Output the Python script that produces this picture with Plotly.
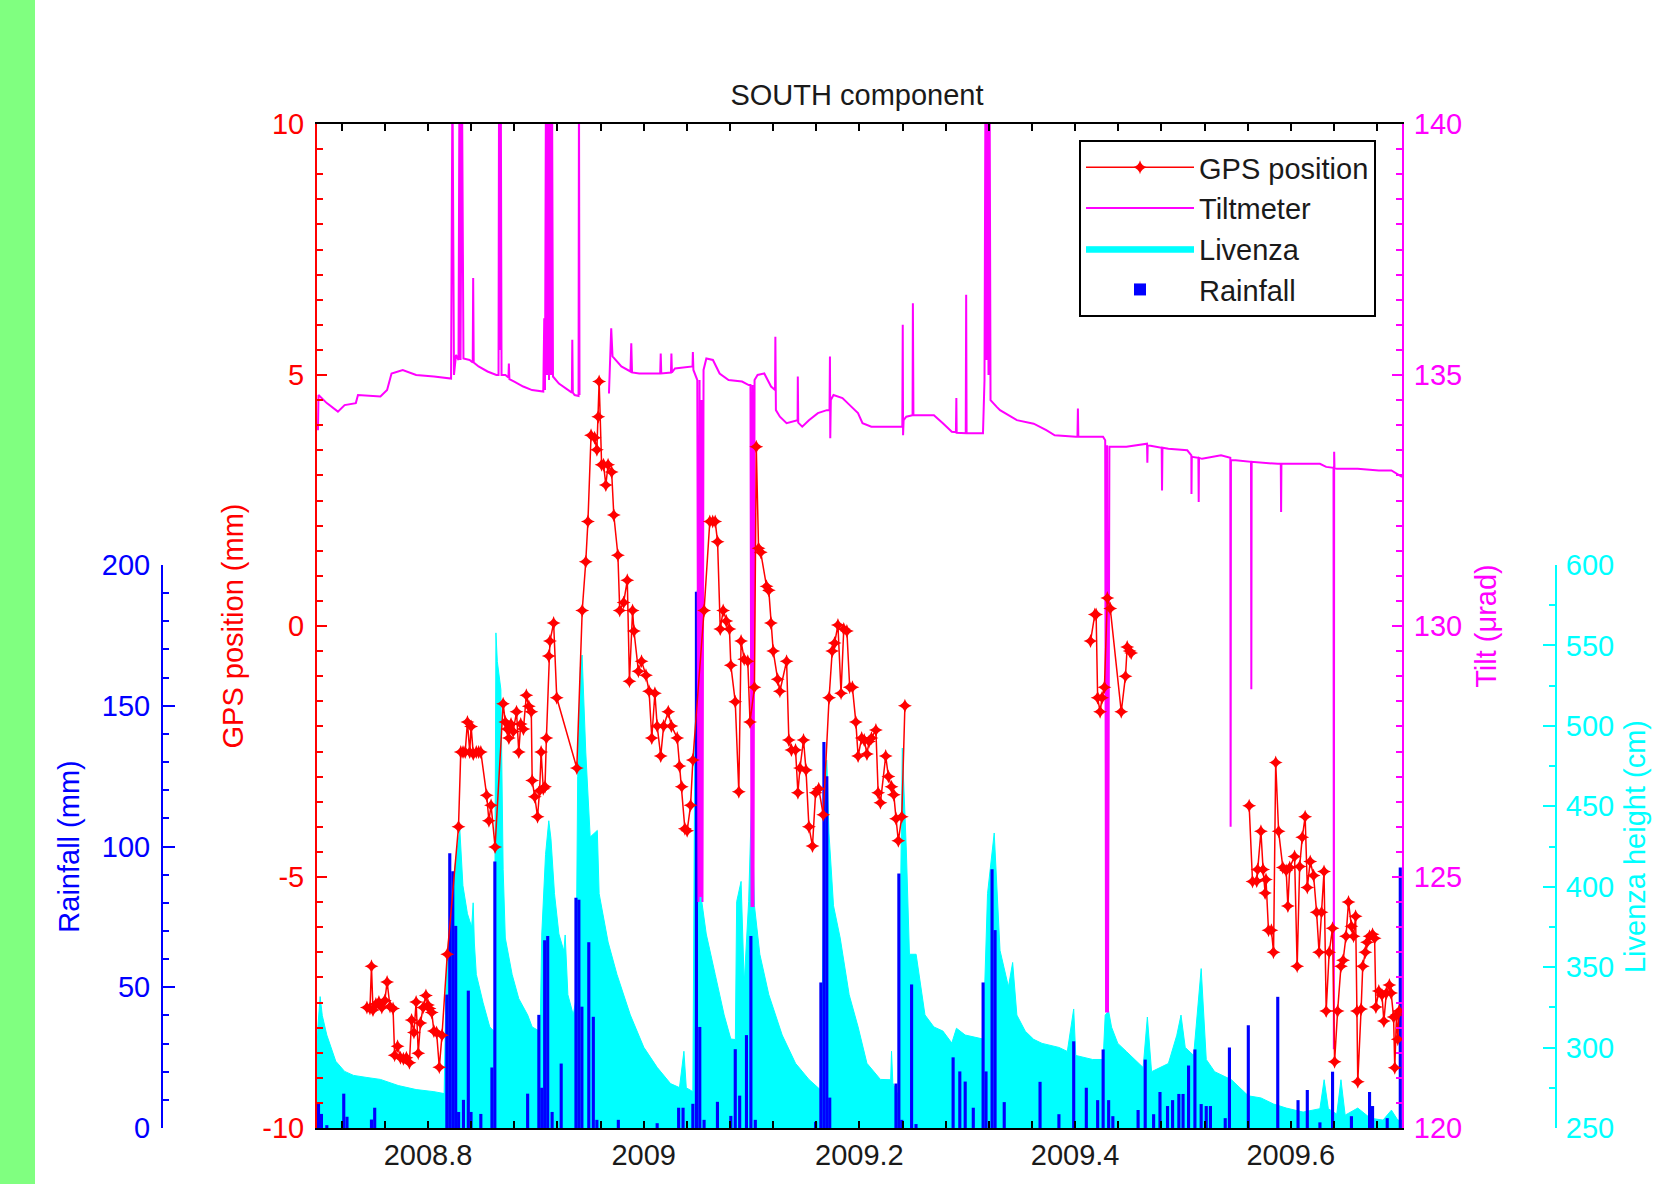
import plotly.graph_objects as go

TITLE = "SOUTH component"

# ---------------- GPS position (mm) ----------------
GPS_YEAR = [
    2008.7434, 2008.7462, 2008.7476, 2008.7490, 2008.7517, 2008.7545, 2008.7572, 2008.7600,
    2008.7621, 2008.7648, 2008.7676, 2008.7691, 2008.7718, 2008.7745, 2008.7772, 2008.7800,
    2008.7828, 2008.7848, 2008.7870, 2008.7890, 2008.7910, 2008.7930, 2008.7955, 2008.7981,
    2008.8000, 2008.8014, 2008.8035, 2008.8055, 2008.8080, 2008.8105, 2008.8130, 2008.8179,
    2008.8283, 2008.8304, 2008.8325, 2008.8345, 2008.8366, 2008.8387, 2008.8400, 2008.8420,
    2008.8448, 2008.8470, 2008.8490, 2008.8544, 2008.8565, 2008.8585, 2008.8622,
    2008.8697, 2008.8717, 2008.8735, 2008.8750, 2008.8770, 2008.8790, 2008.8821, 2008.8842,
    2008.8860, 2008.8885, 2008.8912, 2008.8935, 2008.8958, 2008.8966, 2008.8990, 2008.9016,
    2008.9035, 2008.9049, 2008.9069, 2008.9085, 2008.9098, 2008.9120, 2008.9131, 2008.9165,
    2008.9194, 2008.9380, 2008.9430, 2008.9463, 2008.9483, 2008.9512, 2008.9545, 2008.9566,
    2008.9579, 2008.9587, 2008.9610, 2008.9628, 2008.9649, 2008.9670, 2008.9703, 2008.9723,
    2008.9761, 2008.9778, 2008.9814, 2008.9848, 2008.9868, 2008.9897, 2008.9910, 2008.9951,
    2008.9980, 2009.0021, 2009.0050, 2009.0075, 2009.0104, 2009.0125, 2009.0158, 2009.0185,
    2009.0228, 2009.0257, 2009.0311, 2009.0332, 2009.0353, 2009.0382, 2009.0403, 2009.0435,
    2009.0456, 2009.0560, 2009.0613, 2009.0640, 2009.0663, 2009.0685, 2009.0710, 2009.0737,
    2009.0766, 2009.0795, 2009.0808, 2009.0849, 2009.0882, 2009.0903, 2009.0932, 2009.0965,
    2009.0986, 2009.1027, 2009.1044, 2009.1065, 2009.1085, 2009.1139, 2009.1160, 2009.1180,
    2009.1201, 2009.1242, 2009.1263, 2009.1325, 2009.1346, 2009.1370, 2009.1408, 2009.1430,
    2009.1449, 2009.1482, 2009.1505, 2009.1532, 2009.1565, 2009.1594, 2009.1623, 2009.1665,
    2009.1719, 2009.1748, 2009.1770, 2009.1801, 2009.1830, 2009.1855, 2009.1884, 2009.1910,
    2009.1935, 2009.1967, 2009.1988, 2009.2021, 2009.2045, 2009.2070, 2009.2090, 2009.2112,
    2009.2153, 2009.2174, 2009.2195, 2009.2244, 2009.2269, 2009.2298, 2009.2319, 2009.2340,
    2009.2361, 2009.2393, 2009.2422, 2009.3300,
    2009.4143, 2009.4183, 2009.4195, 2009.4209, 2009.4232, 2009.4250, 2009.4272, 2009.4299,
    2009.4326, 2009.4428, 2009.4467, 2009.4483, 2009.4506, 2009.4520, 2009.5000,
    2009.5614, 2009.5645, 2009.5684, 2009.5692, 2009.5723, 2009.5743, 2009.5762, 2009.5770,
    2009.5793, 2009.5820, 2009.5840, 2009.5860, 2009.5887, 2009.5926, 2009.5957, 2009.5973,
    2009.5990, 2009.6035, 2009.6059, 2009.6082, 2009.6106, 2009.6133, 2009.6153, 2009.6180,
    2009.6211, 2009.6239, 2009.6262, 2009.6285, 2009.6308, 2009.6328, 2009.6356, 2009.6387,
    2009.6406, 2009.6434, 2009.6465, 2009.6485, 2009.6512, 2009.6535, 2009.6562, 2009.6582,
    2009.6601, 2009.6613, 2009.6621, 2009.6652, 2009.6667, 2009.6691, 2009.6707, 2009.6730,
    2009.6758, 2009.6777, 2009.6789, 2009.6816, 2009.6845, 2009.6863, 2009.6886, 2009.6914,
    2009.6930, 2009.6953, 2009.6964, 2009.6980, 2009.6992, 2009.7004,
]
GPS_MM = [
    -7.60, -7.62, -6.78, -7.65, -7.53, -7.49, -7.60, -7.46,
    -7.09, -7.58, -7.62, -8.55, -8.37, -8.60, -8.62, -8.60,
    -8.70, -7.85, -8.10, -7.49, -8.51, -7.91, -7.60, -7.36,
    -7.55, -7.62, -7.70, -8.07, -8.10, -8.79, -8.15, -6.54,
    -4.00, -2.51, -2.51, -2.51, -1.91, -2.51, -2.00, -2.55,
    -2.51, -2.51, -2.51, -3.37, -3.88, -3.57, -4.40,
    -1.55, -1.91, -2.05, -2.23, -1.95, -2.10, -1.71, -2.51,
    -1.95, -2.05, -1.38, -1.60, -1.71, -3.08, -3.40, -3.80,
    -3.28, -2.51, -3.24, -3.20, -2.23, -0.60, -0.30, 0.06,
    -1.43, -2.83, 0.31, 1.28, 2.08, 3.80, 3.75, 3.51,
    4.17, 4.87, 3.21, 3.21, 2.81, 3.21, 3.07, 2.21,
    1.41, 0.31, 0.47, 0.91, -1.10, 0.31, -0.10, -0.90,
    -0.70, -0.98, -1.30, -2.23, -1.34, -1.99, -2.59, -1.99,
    -1.71, -1.99, -2.23, -2.79, -3.20, -4.04, -4.08, -3.57,
    -2.67, 0.31, 2.08, 2.08, 2.08, 1.68, -0.06, 0.31,
    0.10, -0.06, -0.78, -1.51, -3.30, -0.30, -0.66, -0.70,
    -1.91, -1.22, 3.57, 1.55, 1.47, 0.79, 0.71, 0.06,
    -0.50, -1.06, -1.30, -0.70, -2.27, -2.47, -2.47, -3.32,
    -2.83, -2.27, -2.87, -4.00, -4.38, -3.32, -3.24, -3.76,
    -1.43, -0.50, -0.34, 0.02, -1.34, -0.06, -0.10, -1.22,
    -1.22, -1.91, -2.59, -2.23, -2.27, -2.55, -2.30, -2.23,
    -2.07, -3.32, -3.52, -2.59, -3.00, -3.20, -3.36, -3.84,
    -4.28, -3.80, -1.59, None,
    -0.30, 0.23, 0.23, -1.43, -1.71, -1.43, -1.22, 0.56,
    0.35, -1.71, -1.00, -0.42, -0.50, -0.54, None,
    -3.58, -5.09, -5.08, -4.85, -4.09, -4.85, -5.32, -5.05,
    -6.06, -6.06, -6.50, -2.72, -4.09, -4.81, -4.87, -5.58,
    -4.81, -4.59, -6.78, -4.79, -4.21, -3.80, -5.21, -4.69,
    -4.97, -5.70, -6.50, -5.70, -4.89, -7.67, -6.50, -6.02,
    -8.68, -7.67, -6.78, -6.66, -6.18, -5.50, -5.98, -6.18,
    -5.78, -7.67, -9.08, -7.63, -6.78, -6.50, -6.30, -6.18,
    -6.14, -6.22, -7.59, -7.27, -7.35, -7.87, -7.31, -7.15,
    -7.31, -7.79, -8.80, -7.75, -8.23, -7.67,
]

# ---------------- Tiltmeter (microrad) ----------------
TILT_YEAR = [
    2008.6980, 2008.6985, 2008.7062, 2008.7165, 2008.7227, 2008.7331, 2008.7351, 2008.7559,
    2008.7621, 2008.7662, 2008.7766, 2008.7890, 2008.8055, 2008.8214, 2008.8227, 2008.8241,
    2008.8260, 2008.8283, 2008.8292, 2008.8302, 2008.8315, 2008.8329, 2008.8386, 2008.8415,
    2008.8419, 2008.8424, 2008.8469, 2008.8552, 2008.8634, 2008.8654, 2008.8659, 2008.8668,
    2008.8675, 2008.8682, 2008.8718, 2008.8746, 2008.8750, 2008.8755, 2008.8800, 2008.8883,
    2008.8965, 2008.9069, 2008.9078, 2008.9085, 2008.9094, 2008.9104, 2008.9113, 2008.9122,
    2008.9131, 2008.9141, 2008.9150, 2008.9159, 2008.9214, 2008.9297, 2008.9334, 2008.9338,
    2008.9343, 2008.9360, 2008.9396, 2008.9400, 2008.9405, 2008.9500,
    2008.9678, 2008.9699, 2008.9711, 2008.9793, 2008.9877, 2008.9885, 2008.9892, 2008.9959,
    2009.0125, 2009.0153, 2009.0158, 2009.0163, 2009.0253, 2009.0257, 2009.0262, 2009.0290,
    2009.0453, 2009.0456, 2009.0461, 2009.0497, 2009.0508, 2009.0518, 2009.0527, 2009.0536,
    2009.0545, 2009.0555, 2009.0581, 2009.0642, 2009.0704, 2009.0787, 2009.0912, 2009.0974,
    2009.0990, 2009.1000, 2009.1009, 2009.1018, 2009.1028, 2009.1056, 2009.1118, 2009.1181,
    2009.1218, 2009.1221, 2009.1226, 2009.1263, 2009.1325, 2009.1408, 2009.1427, 2009.1429,
    2009.1433, 2009.1470, 2009.1532, 2009.1615, 2009.1698, 2009.1723, 2009.1727, 2009.1730,
    2009.1735, 2009.1760, 2009.1843, 2009.1925, 2009.1987, 2009.2029, 2009.2111, 2009.2360,
    2009.2398, 2009.2402, 2009.2405, 2009.2410, 2009.2435, 2009.2493, 2009.2496, 2009.2501,
    2009.2526, 2009.2691, 2009.2774, 2009.2857, 2009.2895, 2009.2899, 2009.2902, 2009.2939,
    2009.2986, 2009.2990, 2009.2994, 2009.3146, 2009.3160, 2009.3169, 2009.3179, 2009.3188,
    2009.3197, 2009.3207, 2009.3216, 2009.3271, 2009.3304, 2009.3460, 2009.3616, 2009.3733,
    2009.3811, 2009.4007, 2009.4022, 2009.4026, 2009.4030, 2009.4259, 2009.4279, 2009.4287,
    2009.4296, 2009.4305, 2009.4318, 2009.4475, 2009.4667, 2009.4670, 2009.4673, 2009.4803,
    2009.4806, 2009.4810, 2009.4865, 2009.5040, 2009.5078, 2009.5079, 2009.5082, 2009.5143,
    2009.5146, 2009.5149, 2009.5177, 2009.5353, 2009.5439, 2009.5442, 2009.5445, 2009.5489,
    2009.5631, 2009.5634, 2009.5637, 2009.5880, 2009.5907, 2009.5910, 2009.5913, 2009.6035,
    2009.6270, 2009.6328, 2009.6396, 2009.6399, 2009.6402, 2009.6405, 2009.6426, 2009.6620,
    2009.6816, 2009.6933, 2009.7031,
]
TILT_URAD = [
    133.90, 134.60, 134.44, 134.27, 134.40, 134.44, 134.60, 134.57,
    134.70, 135.03, 135.10, 135.00, 134.97, 134.93, 141.0, 135.00,
    135.40, 135.30, 141.0, 135.30, 141.0, 135.33, 135.30, 135.25,
    136.93, 135.25, 135.17, 135.07, 135.00, 135.00, 141.0, 135.50,
    141.0, 135.00, 135.00, 134.95, 135.23, 134.92, 134.87, 134.77,
    134.70, 134.67, 136.13, 134.70, 141.0, 135.00, 141.0, 134.90,
    141.0, 135.00, 141.0, 134.97, 134.83, 134.70, 134.65, 135.70,
    134.65, 134.60, 134.58, 141.0, 134.60, None,
    134.63, 135.93, 135.37, 135.17, 135.07, 135.63, 135.05, 135.03,
    135.03, 135.03, 135.43, 135.03, 135.05, 135.43, 135.05, 135.13,
    135.17, 135.46, 135.10, 134.90, 124.50, 134.90, 124.60, 134.50,
    124.50, 135.10, 135.33, 135.30, 135.03, 134.90, 134.87, 134.80,
    134.80, 124.40, 134.80, 124.40, 134.90, 135.00, 135.03, 134.77,
    134.70, 135.76, 134.30, 134.17, 134.04, 134.10, 134.10, 134.97,
    134.05, 133.97, 134.10, 134.24, 134.30, 134.30, 135.37, 133.74,
    134.50, 134.60, 134.54, 134.37, 134.24, 134.04, 133.97, 133.97,
    133.97, 136.00, 133.80, 134.10, 134.17, 134.20, 136.43, 134.20,
    134.20, 134.20, 134.04, 133.87, 133.86, 134.54, 133.85, 133.84,
    133.84, 136.60, 133.84, 133.84, 134.90, 141.0, 135.30, 141.0,
    135.00, 141.0, 134.50, 134.37, 134.30, 134.10, 134.03, 133.90,
    133.80, 133.77, 133.77, 134.33, 133.77, 133.77, 133.70, 122.30,
    133.60, 122.30, 133.57, 133.57, 133.63, 133.25, 133.60, 133.55,
    132.70, 133.55, 133.53, 133.50, 133.40, 132.63, 133.37, 133.35,
    132.47, 133.35, 133.33, 133.40, 133.35, 126.00, 133.30, 133.30,
    133.27, 128.74, 133.27, 133.23, 133.23, 132.27, 133.23, 133.23,
    133.23, 133.17, 133.15, 121.57, 133.47, 133.15, 133.13, 133.13,
    133.10, 133.10, 132.97,
]

# ---------------- Livenza river height (cm) ----------------
LIV_YEAR = [
    2008.6971, 2008.6979, 2008.7000, 2008.7020, 2008.7062, 2008.7145, 2008.7227, 2008.7310,
    2008.7434, 2008.7559, 2008.7724, 2008.7890, 2008.8055, 2008.8150, 2008.8165, 2008.8179,
    2008.8242, 2008.8295, 2008.8324, 2008.8366, 2008.8405, 2008.8419, 2008.8430, 2008.8448,
    2008.8511, 2008.8573, 2008.8615, 2008.8630, 2008.8643, 2008.8676, 2008.8697, 2008.8717,
    2008.8780, 2008.8842, 2008.8924, 2008.8966, 2008.9040, 2008.9055, 2008.9090, 2008.9120,
    2008.9140, 2008.9173, 2008.9214, 2008.9260, 2008.9272, 2008.9297, 2008.9347, 2008.9372,
    2008.9388, 2008.9413, 2008.9429, 2008.9463, 2008.9504, 2008.9545, 2008.9570, 2008.9587,
    2008.9670, 2008.9752, 2008.9876, 2009.0001, 2009.0125, 2009.0249, 2009.0332, 2009.0373,
    2009.0395, 2009.0456, 2009.0473, 2009.0497, 2009.0515, 2009.0539, 2009.0580, 2009.0663,
    2009.0746, 2009.0808, 2009.0850, 2009.0862, 2009.0903, 2009.0932, 2009.0973, 2009.1002,
    2009.1027, 2009.1077, 2009.1160, 2009.1284, 2009.1408, 2009.1532, 2009.1636, 2009.1660,
    2009.1677, 2009.1698, 2009.1718, 2009.1760, 2009.1822, 2009.1905, 2009.1988, 2009.2070,
    2009.2195, 2009.2290, 2009.2298, 2009.2310, 2009.2360, 2009.2398, 2009.2435, 2009.2464,
    2009.2526, 2009.2608, 2009.2691, 2009.2774, 2009.2857, 2009.2900, 2009.2981, 2009.3147,
    2009.3188, 2009.3250, 2009.3304, 2009.3382, 2009.3421, 2009.3460, 2009.3538, 2009.3616,
    2009.3694, 2009.3850, 2009.3928, 2009.3987, 2009.4006, 2009.4162, 2009.4260, 2009.4279,
    2009.4311, 2009.4338, 2009.4396, 2009.4475, 2009.4553, 2009.4631, 2009.4670, 2009.4709,
    2009.4865, 2009.4943, 2009.4982, 2009.5021, 2009.5099, 2009.5169, 2009.5216, 2009.5294,
    2009.5372, 2009.5450, 2009.5528, 2009.5606, 2009.5723, 2009.5840, 2009.5958, 2009.6114,
    2009.6270, 2009.6309, 2009.6348, 2009.6426, 2009.6465, 2009.6504, 2009.6621, 2009.6738,
    2009.6855, 2009.6933, 2009.6992, 2009.7030,
]
LIV_CM = [
    297.7, 312.8, 331.7, 320.0, 307.8, 291.5, 285.2, 282.7,
    281.4, 280.2, 276.4, 273.9, 272.6, 271.4, 332.9, 358.0,
    408.3, 435.9, 400.7, 383.2, 375.0, 390.0, 365.0, 345.5,
    327.9, 312.8, 310.0, 557.8, 540.0, 522.6, 410.8, 368.1,
    345.5, 330.4, 320.3, 312.8, 310.0, 370.6, 420.0, 441.0,
    430.0, 395.7, 370.6, 360.0, 370.0, 332.9, 320.3, 330.0,
    468.6, 536.4, 544.0, 483.7, 430.9, 433.4, 435.0, 395.7,
    365.6, 345.5, 320.3, 300.2, 287.7, 277.6, 275.1, 297.7,
    275.0, 272.6, 478.6, 584.2, 470.0, 390.7, 370.6, 345.5,
    320.3, 305.3, 305.0, 390.7, 403.3, 340.0, 390.7, 458.5,
    388.2, 358.0, 332.9, 307.8, 290.2, 280.2, 273.9, 350.0,
    476.1, 478.6, 433.4, 388.2, 368.1, 332.9, 312.8, 290.2,
    280.2, 280.0, 297.7, 278.0, 270.1, 486.2, 423.4, 358.0,
    358.0, 320.3, 312.8, 310.3, 302.8, 312.0, 307.8, 305.3,
    395.7, 433.4, 360.4, 337.8, 352.9, 320.2, 310.2, 305.1,
    302.6, 300.1, 297.6, 324.0, 295.1, 292.6, 292.6, 320.2,
    322.7, 312.7, 302.6, 297.6, 292.6, 287.6, 319.0, 285.0,
    290.1, 307.7, 320.2, 300.1, 295.1, 349.1, 292.6, 285.0,
    282.5, 280.0, 275.0, 270.0, 268.7, 264.9, 262.4, 259.9,
    262.0, 280.0, 262.0, 258.6, 280.0, 258.0, 262.4, 256.1,
    254.9, 261.1, 254.9, 254.9,
]

# ---------------- Daily rainfall (mm) ----------------
RAIN_YEAR = [
    2008.6985, 2008.7012, 2008.7062, 2008.7219, 2008.7249, 2008.7476, 2008.7506,
    2008.8175, 2008.8202, 2008.8230, 2008.8257, 2008.8284, 2008.8329, 2008.8374, 2008.8399,
    2008.8490, 2008.8593, 2008.8620, 2008.8924, 2008.9028, 2008.9055, 2008.9082, 2008.9110,
    2008.9151, 2008.9235, 2008.9372, 2008.9399, 2008.9427, 2008.9491, 2008.9533, 2008.9566,
    2008.9765, 2009.0125, 2009.0324, 2009.0365, 2009.0456, 2009.0489, 2009.0520, 2009.0560,
    2009.0684, 2009.0808, 2009.0849, 2009.0890, 2009.0953, 2009.0994, 2009.1035, 2009.1594,
    2009.1643, 2009.1671, 2009.1698, 2009.1725, 2009.2339, 2009.2366, 2009.2393, 2009.2484,
    2009.2525, 2009.2869, 2009.2931, 2009.2981, 2009.3056, 2009.3147, 2009.3174, 2009.3230,
    2009.3258, 2009.3343, 2009.3675, 2009.3850, 2009.3987, 2009.4104, 2009.4209, 2009.4260,
    2009.4311, 2009.4350, 2009.4584, 2009.4650, 2009.4728, 2009.4787, 2009.4857, 2009.4904,
    2009.4962, 2009.5001, 2009.5052, 2009.5111, 2009.5169, 2009.5216, 2009.5255, 2009.5392,
    2009.5431, 2009.5606, 2009.5879, 2009.6067, 2009.6153, 2009.6270, 2009.6387, 2009.6562,
    2009.6730, 2009.6758, 2009.6894, 2009.7015,
]
RAIN_MM = [
    9.0, 5.0, 1.0, 12.2, 4.0, 3.0, 7.2,
    47.4, 97.6, 91.2, 71.8, 5.7, 10.0, 48.8, 5.7,
    5.0, 21.5, 94.7, 12.2, 40.2, 14.3, 66.7, 68.2,
    5.7, 22.9, 81.8, 81.1, 43.1, 66.0, 39.5, 2.9,
    2.9, 1.7, 7.2, 7.2, 8.6, 190.5, 35.9, 2.9,
    9.3, 4.3, 28.0, 11.5, 33.0, 68.2, 2.9, 2.2,
    51.7, 137.1, 125.0, 10.8, 15.8, 90.4, 2.9, 51.0,
    1.4, 25.1, 20.1, 16.5, 7.2, 51.7, 20.1, 91.9,
    70.3, 9.2, 16.4, 4.9, 30.8, 14.3, 9.9, 27.9,
    9.9, 4.2, 6.4, 24.3, 4.9, 12.8, 7.8, 9.9,
    12.1, 12.1, 22.2, 27.9, 8.5, 7.8, 7.8, 3.5,
    28.6, 36.5, 46.6, 9.9, 13.5, 2.0, 20.0, 4.2,
    12.8, 7.8, 3.5, 92.5,
]

X_RANGE = [2008.6971, 2009.7031]
GPS_RANGE = [-10, 10]
TILT_RANGE = [120, 140]
RAIN_RANGE = [0, 200]
LIV_RANGE = [250, 600]
GPS_TICKS = [-10, -5, 0, 5, 10]
GPS_TICKTEXT = ["-10", "-5", "0", "5", "10"]

RED = "#FF0000"
MAGENTA = "#FF00FF"
CYAN = "#00FFFF"
BLUE = "#0000FF"
FONT = "Arial, 'Liberation Sans', sans-serif"
FS = 29

fig = go.Figure()

fig.add_trace(go.Scatter(
    x=LIV_YEAR, y=LIV_CM, xaxis="x", yaxis="y", name="Livenza",
    mode="lines", fill="tozeroy", fillcolor=CYAN, line=dict(color=CYAN, width=1),
    legendrank=3,
))
fig.add_trace(go.Bar(
    x=RAIN_YEAR, y=RAIN_MM, xaxis="x", yaxis="y2", name="Rainfall",
    width=0.0029, marker=dict(color=BLUE, line=dict(width=0)),
    legendrank=4,
))
fig.add_trace(go.Scatter(
    x=TILT_YEAR, y=TILT_URAD, xaxis="x", yaxis="y3", name="Tiltmeter",
    mode="lines", line=dict(color=MAGENTA, width=2), connectgaps=False,
    legendrank=2,
))
fig.add_trace(go.Scatter(
    x=GPS_YEAR, y=GPS_MM, xaxis="x", yaxis="y4", name="GPS position",
    mode="lines+markers", line=dict(color=RED, width=1.5), connectgaps=False,
    marker=dict(symbol="star-diamond", size=10, color=RED, line=dict(width=0)),
    legendrank=1,
))

W, H = 1660, 1184
ML, MR, MT, MB = 60, 60, 124, 56
PW, PH = W - ML - MR, H - MT - MB
XD = [(317 - ML) / PW, (1402 - ML) / PW]
SUB_TOP = (1128 - 565) / PH


def yax(color, **kw):
    d = dict(
        showline=True, linecolor=color, linewidth=2, showgrid=False, zeroline=False,
        ticks="inside", tickcolor=color, tickwidth=2,
        tickfont=dict(color=color, size=FS, family=FONT),
        automargin=False,
    )
    d.update(kw)
    return d


fig.update_layout(
    width=W, height=H, autosize=False,
    margin=dict(l=ML, r=MR, t=MT, b=MB, pad=0),
    paper_bgcolor="white", plot_bgcolor="rgba(0,0,0,0)",
    font=dict(family=FONT, size=FS, color="black"),
    showlegend=True,
    title=dict(text=TITLE, x=857 / W, xref="container", xanchor="center",
               y=1 - 95 / H, yref="container", yanchor="middle",
               font=dict(size=FS, color="#1a1a1a", family=FONT)),
    xaxis=dict(
        domain=XD, anchor="y3", range=X_RANGE, tick0=2008.8, dtick=0.2,
        tickformat=".5~r",
        ticks="inside", ticklen=7, tickwidth=2, tickcolor="black",
        showline=True, linecolor="black", linewidth=2, mirror="ticks",
        showgrid=False, zeroline=False, ticklabelstandoff=0,
        tickfont=dict(color="#1a1a1a", size=FS, family=FONT),
        minor=dict(tick0=2008.8, dtick=0.04, ticks="inside", ticklen=7,
                   tickwidth=2, tickcolor="black", showgrid=False),
        automargin=False,
    ),
    yaxis=yax(
        CYAN, domain=[0, SUB_TOP], anchor="free", position=(1556 - ML) / PW, side="right",
        range=LIV_RANGE, tick0=250, dtick=50, ticklen=12, ticklabelstandoff=3,
        minor=dict(dtick=25, ticks="inside", ticklen=6, tickwidth=2, tickcolor=CYAN),
        title=dict(text="Livenza height (cm)", font=dict(color=CYAN, size=FS, family=FONT), standoff=11),
    ),
    yaxis2=yax(
        BLUE, overlaying="y", anchor="free", position=(162 - ML) / PW, side="left",
        range=RAIN_RANGE, tick0=0, dtick=50, ticklen=12, ticklabelstandoff=5,
        minor=dict(dtick=10, ticks="inside", ticklen=6, tickwidth=2, tickcolor=BLUE),
        title=dict(text="Rainfall (mm)", font=dict(color=BLUE, size=FS, family=FONT), standoff=13),
    ),
    yaxis3=yax(
        MAGENTA, domain=[0, 1], anchor="x", side="right",
        range=TILT_RANGE, tick0=120, dtick=5, ticklen=10, ticklabelstandoff=4,
        minor=dict(dtick=0.5, ticks="inside", ticklen=6, tickwidth=2, tickcolor=MAGENTA),
        title=dict(text="Tilt (\u03bcrad)", font=dict(color=MAGENTA, size=FS, family=FONT), standoff=15),
    ),
    yaxis4=yax(
        RED, overlaying="y3", anchor="x", side="left",
        range=GPS_RANGE, tickmode="array", tickvals=GPS_TICKS, ticktext=GPS_TICKTEXT,
        ticklen=10, ticklabelstandoff=5,
        minor=dict(tickmode="linear", tick0=0, dtick=0.5, ticks="inside", ticklen=6,
                   tickwidth=2, tickcolor=RED),
        title=dict(text="GPS position (mm)", font=dict(color=RED, size=FS, family=FONT), standoff=10),
    ),
    legend=dict(
        x=(1079 - ML) / PW, y=(1128 - 140) / PH, xanchor="left", yanchor="top",
        bgcolor="white", bordercolor="black", borderwidth=2,
        font=dict(size=FS, color="#1a1a1a", family=FONT),
        traceorder="normal", itemwidth=108, tracegroupgap=0,
    ),
    shapes=[dict(
        type="rect", xref="paper", yref="paper",
        x0=-ML / PW, x1=(35 - ML) / PW, y0=-MB / PH, y1=(H - MB) / PH,
        fillcolor="#80FF80", line=dict(width=0), layer="below",
    )],
)

fig.write_html("out.html")
